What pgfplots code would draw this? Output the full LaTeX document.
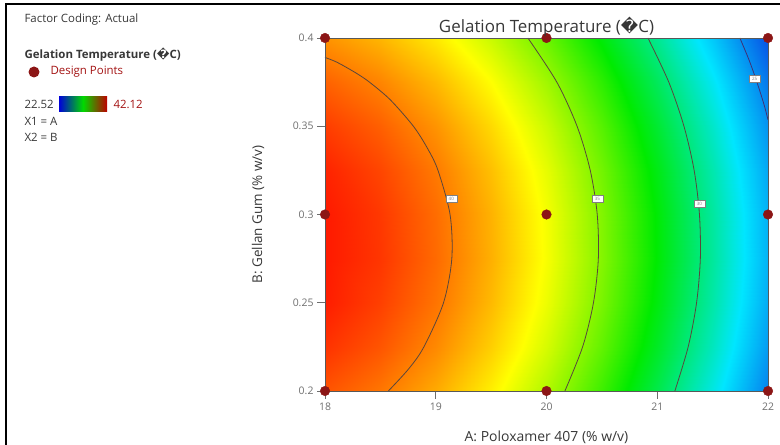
\documentclass[border=0pt]{standalone}
\usepackage{pgfplots}
\pgfplotsset{compat=1.18}
\usepackage{fontspec}
\setmainfont{Open Sans}
\newfontfamily\djv{DejaVu Sans}
\definecolor{dpred}{RGB}{140,22,22}
\definecolor{txt}{RGB}{55,55,55}
\definecolor{tickc}{RGB}{110,110,110}
\definecolor{cline}{RGB}{90,70,60}
\pgfplotsset{colormap={de}{rgb255(0cm)=(10,55,225) rgb255(1cm)=(0,230,255) rgb255(2cm)=(0,235,0) rgb255(3cm)=(255,255,0) rgb255(4cm)=(255,25,0)}}
\newcommand{\rep}{{\djv ^^^^fffd}}
\begin{document}
\begin{tikzpicture}[x=1bp,y=1bp]
\path[use as bounding box] (0,0) rectangle (780,445);
% frame lines of the screenshot
\draw[black,line width=1.6bp] (6,0) -- (6,441) -- (780,441);
% left panel
\node[anchor=west,text=txt,font=\fontsize{11.5}{13}\selectfont] at (21,425) {Factor Coding: Actual};
\node[anchor=west,text=txt,font=\fontsize{11.5}{13}\selectfont\bfseries] at (21,390) {Gelation Temperature ({\bfseries\rep}C)};
\fill[dpred] (34,373) circle (5.5);
\node[anchor=west,text=dpred!80!red,font=\fontsize{11.5}{13}\selectfont] at (47,373) {Design Points};
\node[anchor=west,text=txt,font=\fontsize{11.5}{13}\selectfont] at (21,341) {22.52};
\shade[left color=blue!85!black, right color=red!75!black, middle color=green!85!black] (59,333) rectangle (107,348);
\node[anchor=west,text=dpred!80!red,font=\fontsize{11.5}{13}\selectfont] at (110,341) {42.12};
\node[anchor=west,text=txt,font=\fontsize{11.5}{13}\selectfont] at (21,324) {X1 = A};
\node[anchor=west,text=txt,font=\fontsize{11.5}{13}\selectfont] at (21,308) {X2 = B};
\begin{axis}[
  at={(325bp,54bp)}, anchor=south west,
  scale only axis, width=443bp, height=353bp,
  xmin=18, xmax=22, ymin=0.2, ymax=0.4,
  xtick={18,19,20,21,22}, ytick={0.2,0.25,0.3,0.35,0.4},
  yticklabels={0.2,0.25,0.3,0.35,0.4},
  tick align=outside, major tick length=8bp,
  xtick pos=left, ytick pos=left,
  tick style={tickc, line width=0.9bp},
  axis line style={tickc!80!black, line width=0.6bp},
  colormap name=de, point meta min=22.52, point meta max=42.12,
  ticklabel style={font=\fontsize{10.5}{12}\selectfont, text=tickc},
  /pgf/number format/assume math mode=true,
  xlabel={A: Poloxamer 407 (\% w/v)},
  ylabel={B: Gellan Gum (\% w/v)},
  title={Gelation Temperature (\rep C)},
  every axis x label/.style={at={(axis description cs:0.5,0)}, anchor=center, yshift=-46bp, font=\fontsize{14}{16}\selectfont, text=txt},
  every axis y label/.style={at={(axis description cs:0,0.5)}, anchor=center, rotate=90, yshift=67bp, font=\fontsize{13.5}{16}\selectfont, text=txt},
  every axis title/.style={at={(axis description cs:0.5,1)}, anchor=center, yshift=11bp, font=\fontsize{17}{19}\selectfont, text=txt},
  clip=false, axis on top,
]
\addplot[surf, shader=interp, mesh/cols=9, point meta=explicit] table[x=a, y=b, meta=t] {
a b t
18 0.2 40.88
18.5 0.2 40.14
19 0.2 39.02
19.5 0.2 37.54
20 0.2 35.70
20.5 0.2 33.48
21 0.2 30.90
21.5 0.2 27.94
22 0.2 24.62
18 0.225 41.59
18.5 0.225 40.85
19 0.225 39.73
19.5 0.225 38.25
20 0.225 36.41
20.5 0.225 34.19
21 0.225 31.61
21.5 0.225 28.65
22 0.225 25.33
18 0.25 42.04
18.5 0.25 41.30
19 0.25 40.18
19.5 0.25 38.70
20 0.25 36.86
20.5 0.25 34.64
21 0.25 32.06
21.5 0.25 29.10
22 0.25 25.78
18 0.275 42.25
18.5 0.275 41.51
19 0.275 40.39
19.5 0.275 38.91
20 0.275 37.07
20.5 0.275 34.85
21 0.275 32.27
21.5 0.275 29.31
22 0.275 25.99
18 0.3 42.20
18.5 0.3 41.46
19 0.3 40.34
19.5 0.3 38.86
20 0.3 37.02
20.5 0.3 34.80
21 0.3 32.22
21.5 0.3 29.26
22 0.3 25.94
18 0.325 41.91
18.5 0.325 41.17
19 0.325 40.05
19.5 0.325 38.57
20 0.325 36.73
20.5 0.325 34.51
21 0.325 31.93
21.5 0.325 28.97
22 0.325 25.65
18 0.35 41.36
18.5 0.35 40.62
19 0.35 39.50
19.5 0.35 38.02
20 0.35 36.18
20.5 0.35 33.96
21 0.35 31.38
21.5 0.35 28.42
22 0.35 25.10
18 0.375 40.57
18.5 0.375 39.83
19 0.375 38.71
19.5 0.375 37.23
20 0.375 35.39
20.5 0.375 33.17
21 0.375 30.59
21.5 0.375 27.63
22 0.375 24.31
18 0.4 39.52
18.5 0.4 38.78
19 0.4 37.66
19.5 0.4 36.18
20 0.4 34.34
20.5 0.4 32.12
21 0.4 29.54
21.5 0.4 26.58
22 0.4 23.26
};
% contour lines (levels 40, 35, 30, 25)
\addplot[cline, line width=0.8bp, smooth] coordinates {(18,0.389) (18.082,0.387) (18.146,0.385) (18.284,0.38) (18.401,0.375) (18.589,0.365) (18.798,0.35) (18.925,0.3375) (19.020,0.325) (19.129,0.3) (19.145,0.275) (19.070,0.25) (18.893,0.225) (18.755,0.2125) (18.572,0.2)};
\addplot[cline, line width=0.8bp, smooth] coordinates {(19.832,0.4) (20.093,0.375) (20.276,0.35) (20.395,0.325) (20.458,0.3) (20.468,0.275) (20.424,0.25) (20.326,0.225) (20.166,0.2)};
\addplot[cline, line width=0.8bp, smooth] coordinates {(20.916,0.4) (21.104,0.375) (21.241,0.35) (21.333,0.325) (21.381,0.3) (21.389,0.275) (21.355,0.25) (21.279,0.225) (21.159,0.2)};
\addplot[cline!70!blue, line width=0.8bp, smooth] coordinates {(21.746,0.4) (21.829,0.3875) (21.900,0.375) (21.963,0.3625) (22,0.3537)};
% contour labels
\foreach \px/\py/\lab in {19.14/0.309/40, 20.46/0.309/35, 21.38/0.306/30, 21.88/0.377/25}{
  \edef\tmp{\noexpand\node[fill=white, draw=gray, line width=0.4bp, inner sep=1bp, minimum width=11bp, minimum height=7bp, font=\noexpand\fontsize{4.5}{4.5}\noexpand\selectfont, text=gray] at (axis cs:\px,\py) {\lab};}
  \tmp
}
% design points
\addplot[only marks, mark=*, mark size=4.8bp, color=dpred] coordinates {(18,0.2) (18,0.3) (18,0.4) (20,0.2) (20,0.3) (20,0.4) (22,0.2) (22,0.3) (22,0.4)};
\end{axis}
\end{tikzpicture}
\end{document}
